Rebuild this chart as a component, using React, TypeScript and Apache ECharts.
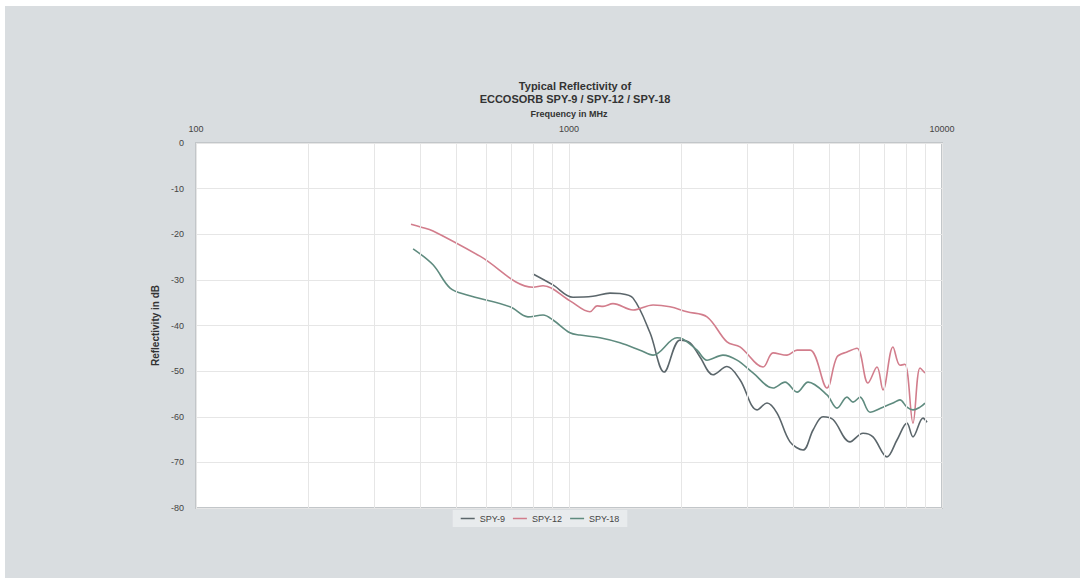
import React, { useEffect, useRef } from "react";
import * as echarts from "echarts";

const seriesNames = ["SPY-9", "SPY-12", "SPY-18"];
const seriesColors = ["#5b666b", "#d27d8c", "#5f8b7f"];

const spy9: [number, number][] = [
  [801, -28.7], [906, -31.1], [1025, -33.8], [1159, -33.6], [1288, -32.9], [1370, -33.0],
  [1485, -34.0], [1649, -41.6], [1800, -50.2], [1984, -43.2], [2111, -43.8], [2245, -46.9],
  [2432, -50.8], [2652, -49.0], [2873, -51.9], [3192, -58.5], [3395, -57.0], [3612, -59.2],
  [3913, -65.5], [4241, -67.3], [4512, -62.9], [4797, -60.0], [5103, -60.6], [5667, -65.5],
  [6141, -63.6], [6531, -64.4], [7121, -68.8], [7574, -65.1], [8055, -61.4], [8360, -64.4],
  [8893, -60.3], [9116, -61.2],
];

const spy12: [number, number][] = [
  [377, -17.8], [400, -18.4], [432, -19.3], [577, -24.8], [801, -31.6], [852, -31.3],
  [1006, -34.6], [1138, -37.0], [1189, -35.7], [1234, -35.8], [1312, -35.2], [1485, -36.6],
  [1680, -35.5], [1866, -35.9], [2072, -37.0], [2344, -38.1], [2652, -43.6], [2873, -44.7],
  [3313, -49.1], [3524, -46.0], [3842, -46.5], [4087, -45.4], [4429, -45.4], [4917, -53.7],
  [5230, -46.9], [5563, -45.8], [5918, -45.0], [6332, -52.6], [6694, -49.1], [6946, -54.1],
  [7389, -44.7], [7712, -48.7], [7955, -48.5], [8360, -61.4], [8730, -49.3], [9004, -50.4],
];

const spy18: [number, number][] = [
  [382, -23.2], [432, -26.7], [480, -31.8], [533, -33.3], [695, -35.9], [776, -38.1],
  [852, -37.7], [906, -38.8], [1006, -41.6], [1070, -42.1], [1211, -42.7], [1370, -43.8],
  [1550, -45.4], [1680, -46.5], [1948, -42.7], [2022, -43.0], [2204, -45.4], [2344, -47.6],
  [2587, -46.5], [2821, -47.6], [3114, -50.4], [3524, -53.7], [3794, -52.4], [4087, -54.6],
  [4375, -52.4], [4917, -55.2], [5230, -58.1], [5563, -55.7], [5773, -56.8], [6029, -55.7],
  [6412, -59.0], [6946, -57.9], [7389, -57.0], [7712, -56.3], [8055, -57.9], [8360, -58.5],
  [8730, -57.9], [9004, -57.0],
];

const minorFreqs = [200, 300, 400, 500, 600, 700, 800, 900, 2000, 3000, 4000, 5000, 6000, 7000, 8000, 9000];

const FONT = "'Liberation Sans', Arial, sans-serif";

export default function App() {
  const ref = useRef<HTMLDivElement>(null);
  useEffect(() => {
    if (!ref.current) return;
    const chart = echarts.init(ref.current, undefined, { renderer: "svg" });
    const data = [spy9, spy12, spy18];
    chart.setOption({
      animation: false,
      backgroundColor: "#ffffff",
      textStyle: { fontFamily: FONT },
      graphic: [
        {
          type: "rect",
          z: -10,
          shape: { x: 5, y: 6, width: 1075, height: 572 },
          style: { fill: "#d9dde0" },
          silent: true,
        },
      ],
      title: {
        text: "Typical Reflectivity of\nECCOSORB SPY-9 / SPY-12 / SPY-18",
        left: 570,
        textAlign: "center",
        top: 74,
        textStyle: { fontSize: 11, fontWeight: "bold", color: "#333", lineHeight: 13, fontFamily: FONT },
      },
      legend: {
        bottom: 51,
        left: "center",
        icon: "rect",
        itemWidth: 14,
        itemHeight: 1.5,
        itemGap: 8,
        backgroundColor: "#e8ebed",
        padding: [4, 8],
        textStyle: { fontSize: 9, color: "#444", fontFamily: FONT },
        data: seriesNames,
      },
      grid: {
        left: 196,
        right: 138,
        top: 143,
        bottom: 70,
        show: true,
        backgroundColor: "#ffffff",
        borderColor: "#c2c6c9",
        borderWidth: 2,
      },
      xAxis: {
        type: "log",
        logBase: 10,
        position: "top",
        min: 100,
        max: 10000,
        name: "Frequency in MHz",
        nameLocation: "middle",
        nameGap: 25,
        nameTextStyle: { fontSize: 9, fontWeight: "bold", color: "#333", fontFamily: FONT },
        axisLine: { show: false },
        axisTick: { show: false },
        axisLabel: {
          fontSize: 9,
          color: "#444",
          margin: 10,
          fontFamily: FONT,
          formatter: (v: number) => String(Math.round(v)),
        },
        splitLine: { show: true, lineStyle: { color: "#e6e6e6", width: 1 } },
      },
      yAxis: {
        type: "value",
        min: -80,
        max: 0,
        interval: 10,
        name: "Reflectivity in dB",
        nameLocation: "middle",
        nameRotate: 90,
        nameGap: 29,
        nameTextStyle: { fontSize: 10, fontWeight: "bold", color: "#333", fontFamily: FONT },
        axisLine: { show: false },
        axisTick: { show: false },
        axisLabel: { fontSize: 9, color: "#444", margin: 12, fontFamily: FONT },
        splitLine: { show: true, lineStyle: { color: "#e6e6e6", width: 1 } },
      },
      series: [
        ...seriesNames.map((name, i) => ({
          name,
          type: "line",
          data: data[i],
          smooth: 0.35,
          showSymbol: false,
          symbol: "none",
          color: seriesColors[i],
          lineStyle: { width: 1.6, color: seriesColors[i] },
          z: 3,
        })),
        {
          name: "minor",
          type: "line",
          data: [],
          silent: true,
          markLine: {
            silent: true,
            symbol: "none",
            label: { show: false },
            lineStyle: { color: "#e6e6e6", width: 1, type: "solid" },
            data: minorFreqs.map((f) => ({ xAxis: f })),
          },
          z: 1,
        },
      ],
    });
    return () => chart.dispose();
  }, []);
  return (
    <div
      ref={ref}
      style={{ position: "absolute", left: 0, top: 0, width: 1080, height: 578 }}
    />
  );
}
